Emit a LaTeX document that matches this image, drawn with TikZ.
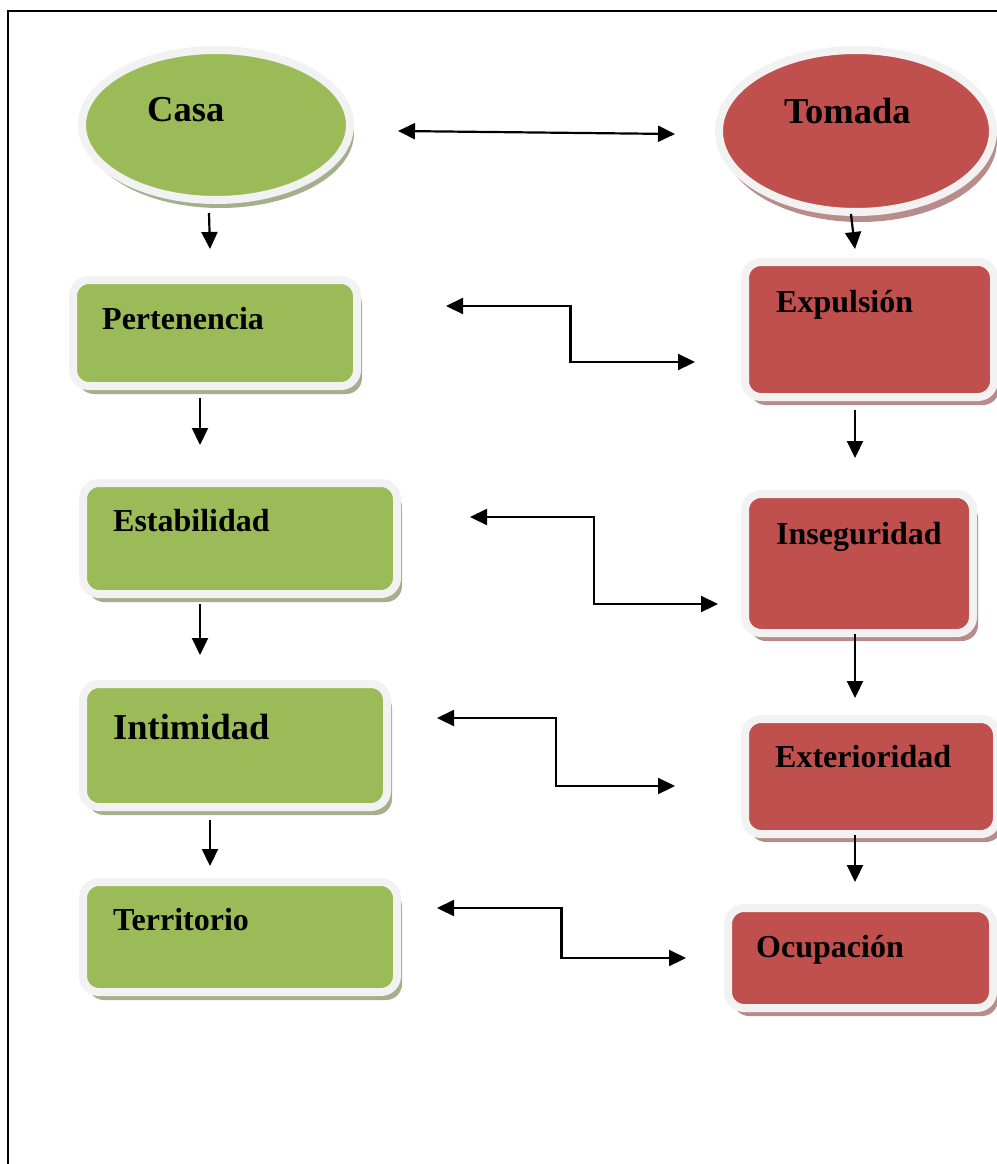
\documentclass[tikz,border=0pt]{standalone}
\usepackage{fontspec}
\setmainfont{Liberation Serif}
\usetikzlibrary{calc, shapes.geometric, shadows, arrows.meta}

\definecolor{casagreen}{HTML}{9BBB59}
\definecolor{casashadow}{HTML}{A5AF8E}
\definecolor{tomadared}{HTML}{C0504D}
\definecolor{tomadashadow}{HTML}{B98C8C}
\definecolor{ringgray}{HTML}{F2F2F2}

\begin{document}
\begin{tikzpicture}[x=1pt, y=-1pt]
    \tikzstyle{ringed} = [draw=ringgray, line width=8pt, inner sep=0pt, outer sep=0pt]
    \tikzstyle{casabox} = [ringed, rectangle, rounded corners=16pt, fill=casagreen,
        general shadow={fill=casashadow, shadow xshift=5pt, shadow yshift=-8pt}]
    \tikzstyle{tomadabox} = [ringed, rectangle, rounded corners=16pt, fill=tomadared,
        general shadow={fill=tomadashadow, shadow xshift=5pt, shadow yshift=-8pt}]
    \tikzstyle{casaoval} = [ringed, ellipse, fill=casagreen,
        general shadow={fill=casashadow, shadow xshift=4pt, shadow yshift=-8pt}]
    \tikzstyle{tomadaoval} = [ringed, ellipse, fill=tomadared,
        general shadow={fill=tomadashadow, shadow xshift=4pt, shadow yshift=-10pt}]
    \tikzstyle{word} = [anchor=base west, inner sep=0pt, font=\bfseries\fontsize{32}{38}\selectfont]
    \tikzstyle{bigword} = [word, font=\bfseries\fontsize{36.5}{44}\selectfont]
    \tikzstyle{link} = [line width=2.2pt, -{Triangle[length=17pt, width=16pt]}]
    \tikzstyle{twoway} = [line width=2.2pt, {Triangle[length=17pt, width=16pt]}-{Triangle[length=17pt, width=16pt]}]

    \useasboundingbox (0, 0) rectangle (996, 1164);
    \draw[line width=2.6pt] (8, 1170) -- (8, 11) -- (1000, 11);

    % Casa ---------------------------------------------
    \node (casa) at (216, 125) [casaoval, minimum width=268pt, minimum height=150pt] {};
    \node (pert) at (215, 333) [casabox, minimum width=284pt, minimum height=106pt] {};
    \node (estab) at (240, 538.5) [casabox, minimum width=314pt, minimum height=111pt] {};
    \node (intim) at (235, 745.5) [casabox, minimum width=304pt, minimum height=123pt] {};
    \node (terr) at (240, 937) [casabox, minimum width=314pt, minimum height=110pt] {};

    \node (casa_t) at ($(casa) + (-69, -4)$) [bigword] {Casa};
    \node (pert_t) at ($(pert.north west) + (29, 49)$) [word] {Pertenencia};
    \node (estab_t) at ($(estab.north west) + (30, 48)$) [word] {Estabilidad};
    \node (intim_t) at ($(intim.north west) + (30, 55)$) [bigword] {Intimidad};
    \node (terr_t) at ($(terr.north west) + (30, 48)$) [word] {Territorio};
    % ---------------------------------------------------

    % Tomada --------------------------------------------
    \node (tomada) at (856, 131) [tomadaoval, minimum width=274pt, minimum height=162pt] {};
    \node (expul) at (869.5, 329.5) [tomadabox, minimum width=249pt, minimum height=135pt] {};
    \node (inseg) at (859, 563.5) [tomadabox, minimum width=228pt, minimum height=139pt] {};
    \node (exter) at (871, 776.5) [tomadabox, minimum width=252pt, minimum height=115pt] {};
    \node (ocup) at (860.5, 958) [tomadabox, minimum width=265pt, minimum height=100pt] {};

    \node (tomada_t) at ($(tomada) + (-72, -8)$) [bigword] {Tomada};
    \node (expul_t) at ($(expul.north west) + (31, 50)$) [word] {Expulsión};
    \node (inseg_t) at ($(inseg.north west) + (31, 50)$) [word] {Inseguridad};
    \node (exter_t) at ($(exter.north west) + (30, 48)$) [word] {Exterioridad};
    \node (ocup_t) at ($(ocup.north west) + (28, 49)$) [word] {Ocupación};
    % ---------------------------------------------------

    % Downward links
    \draw [link] ($(casa.south) + (-7, 13)$) -- ($(pert.north) + (-5, -31)$);
    \draw [link] ($(pert.south) + (-15, 12)$) -- ($(estab.north) + (-40, -38)$);
    \draw [link] ($(estab.south) + (-40, 10)$) -- ($(intim.north) + (-35, -29)$);
    \draw [link] ($(intim.south) + (-25, 13)$) -- ($(terr.north) + (-30, -16)$);

    \draw [link] ($(tomada.south) + (-5, 2)$) -- ($(expul.north) + (-14.5, -13)$);
    \draw [link] ($(expul.south) + (-14.5, 13)$) -- ($(inseg.north) + (-4, -36)$);
    \draw [link] ($(inseg.south) + (-4, 1)$) -- ($(exter.north) + (-16, -21)$);
    \draw [link] ($(exter.south) + (-16, 1)$) -- ($(ocup.north) + (-5.5, -26)$);

    % Crossing links
    \draw [twoway] ($(casa.east) + (48, 6)$) -- ($(tomada.west) + (-44, 3)$);

    \coordinate (pa) at ($(pert.east) + (89, -27)$);
    \coordinate (pb) at ($(expul.west) + (-50, 32.5)$);
    \draw [twoway] (pa) -| ($(pa)!.5!(pb)$) |- (pb);

    \coordinate (ea) at ($(estab.east) + (73, -21.5)$);
    \coordinate (eb) at ($(inseg.west) + (-27, 40.5)$);
    \draw [twoway] (ea) -| ($(ea)!.5!(eb)$) |- (eb);

    \coordinate (ia) at ($(intim.east) + (50, -27.5)$);
    \coordinate (ib) at ($(exter.west) + (-70, 9.5)$);
    \draw [twoway] (ia) -| ($(ia)!.5!(ib)$) |- (ib);

    \coordinate (ta) at ($(terr.east) + (40, -29)$);
    \coordinate (tb) at ($(ocup.west) + (-42, 0)$);
    \draw [twoway] (ta) -| ($(ta)!.5!(tb)$) |- (tb);
\end{tikzpicture}
\end{document}
